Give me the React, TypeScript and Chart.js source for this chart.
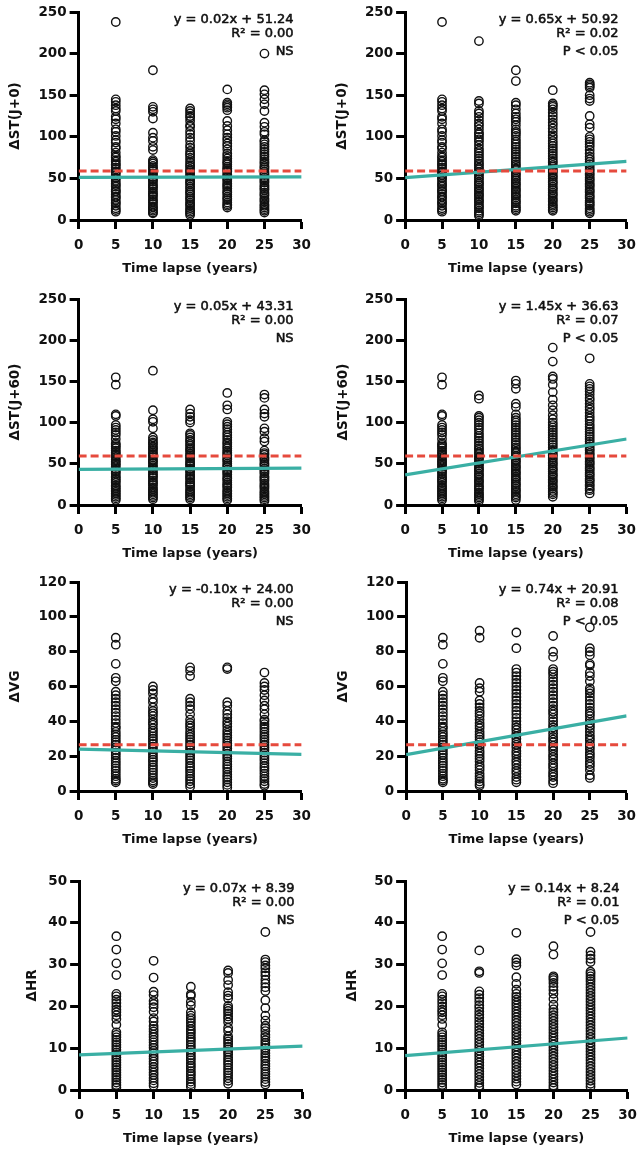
import React, { useEffect, useRef } from "react";
import { Chart, registerables } from "chart.js";

Chart.register(...registerables);

// ---- data -------------------------------------------------------------
const years = [5, 10, 15, 20, 25];

// ΔST(J+0)
const stJ0Year5 = [238, 145, 142, 138, 134, 131, 124, 121, 116, 109, 106, 101, 96, 93, 88, 86, 81, 77, 75, 72, 70, 67, 66, 63, 61, 58, 57, 54, 51, 50, 47, 44, 42, 40, 37, 35, 34, 31, 28, 27, 24, 21, 20, 17, 14, 12, 10];
const stJ0A10 = [180, 136, 133, 130, 122, 105, 99, 95, 88, 84, 72, 70, 68, 65, 63, 61, 59, 56, 55, 52, 50, 48, 46, 43, 41, 39, 37, 34, 32, 30, 28, 25, 23, 21, 19, 16, 15, 13, 11, 9, 8];
const stJ0A15 = [134, 131, 128, 125, 123, 119, 114, 112, 107, 103, 99, 95, 90, 87, 83, 80, 78, 75, 72, 69, 66, 64, 61, 59, 57, 54, 52, 50, 47, 45, 43, 40, 38, 35, 33, 31, 28, 26, 24, 21, 19, 17, 14, 12, 10, 8, 6];
const stJ0A20 = [157, 141, 139, 137, 135, 132, 119, 113, 108, 103, 99, 96, 92, 89, 85, 80, 77, 74, 71, 69, 67, 64, 62, 60, 58, 55, 53, 51, 49, 47, 44, 42, 40, 38, 35, 33, 31, 28, 26, 24, 21, 19, 17, 15];
const stJ0A25 = [200, 156, 151, 145, 139, 131, 117, 112, 106, 103, 96, 94, 91, 88, 85, 82, 79, 76, 73, 70, 68, 65, 63, 61, 58, 56, 54, 51, 49, 47, 45, 42, 40, 38, 36, 33, 31, 29, 26, 24, 22, 19, 17, 15, 13, 11, 9];
const stJ0B10 = [215, 143, 140, 131, 128, 124, 120, 116, 113, 109, 105, 103, 100, 97, 94, 90, 86, 83, 80, 77, 74, 71, 68, 66, 63, 61, 58, 56, 54, 51, 49, 46, 44, 42, 39, 37, 35, 32, 30, 28, 25, 23, 21, 18, 16, 14, 11, 9, 7, 5];
const stJ0B15 = [180, 167, 141, 138, 133, 128, 124, 121, 118, 114, 109, 106, 104, 101, 97, 94, 91, 88, 85, 82, 79, 76, 73, 70, 67, 65, 62, 60, 57, 55, 53, 50, 48, 45, 43, 41, 38, 36, 34, 31, 29, 27, 24, 22, 20, 17, 15, 13, 11];
const stJ0B20 = [156, 140, 138, 136, 133, 129, 125, 121, 117, 114, 110, 106, 102, 99, 95, 92, 89, 86, 83, 80, 77, 74, 71, 69, 66, 64, 61, 59, 57, 54, 52, 50, 47, 45, 43, 40, 38, 36, 33, 31, 29, 26, 24, 22, 19, 17, 15, 13, 11];
const stJ0B25 = [165, 163, 161, 159, 150, 146, 143, 125, 115, 111, 100, 97, 94, 91, 88, 84, 80, 76, 73, 70, 67, 64, 61, 59, 56, 54, 51, 49, 47, 44, 42, 40, 37, 35, 33, 30, 28, 26, 23, 21, 19, 17, 14, 12, 10, 8];

// ΔST(J+60)
const stJ60Year5 = [155, 146, 110, 108, 97, 94, 91, 88, 85, 80, 75, 73, 71, 69, 66, 64, 62, 60, 58, 55, 53, 51, 49, 47, 44, 42, 40, 38, 35, 33, 31, 29, 27, 24, 22, 20, 18, 16, 14, 12, 10, 8, 6];
const stJ60A10 = [163, 115, 104, 101, 93, 82, 79, 76, 74, 71, 69, 67, 64, 62, 60, 58, 55, 53, 51, 48, 46, 44, 42, 39, 37, 35, 33, 30, 28, 26, 24, 21, 19, 17, 15, 13, 11, 9, 7];
const stJ60A15 = [116, 111, 107, 103, 100, 87, 85, 82, 79, 77, 74, 72, 69, 67, 65, 62, 60, 58, 56, 53, 51, 49, 47, 44, 42, 40, 37, 35, 33, 31, 28, 26, 24, 22, 19, 17, 15, 13, 11, 9, 7];
const stJ60A20 = [136, 121, 116, 101, 98, 95, 92, 88, 85, 82, 79, 76, 74, 71, 69, 66, 64, 62, 60, 57, 55, 53, 50, 48, 46, 43, 41, 39, 37, 34, 32, 30, 27, 25, 23, 21, 18, 16, 14, 12, 10, 8, 6];
const stJ60A25 = [134, 130, 116, 111, 107, 93, 89, 81, 77, 66, 63, 61, 58, 56, 54, 51, 49, 47, 44, 42, 40, 38, 35, 33, 31, 29, 26, 24, 22, 20, 17, 15, 13, 11, 9, 7, 5];
const stJ60B10 = [133, 129, 108, 106, 103, 100, 97, 94, 91, 87, 84, 81, 78, 75, 72, 69, 67, 64, 62, 59, 57, 55, 52, 50, 48, 45, 43, 41, 38, 36, 34, 31, 29, 27, 24, 22, 20, 18, 15, 13, 11, 9, 7, 5];
const stJ60B15 = [151, 147, 141, 123, 119, 110, 106, 103, 100, 97, 94, 91, 88, 85, 82, 79, 76, 73, 70, 68, 65, 63, 60, 58, 55, 53, 51, 48, 46, 44, 41, 39, 37, 34, 32, 30, 27, 25, 23, 20, 18, 16, 13, 11, 9, 6];
const stJ60B20 = [191, 174, 156, 153, 146, 137, 128, 121, 115, 109, 104, 100, 97, 94, 91, 88, 85, 82, 79, 76, 73, 70, 67, 65, 62, 60, 57, 55, 52, 50, 48, 45, 43, 41, 38, 36, 34, 31, 29, 27, 24, 22, 20, 17, 15, 13, 10];
const stJ60B25 = [178, 147, 144, 141, 138, 134, 130, 127, 123, 119, 116, 112, 108, 105, 102, 98, 95, 92, 89, 86, 83, 80, 77, 74, 71, 68, 66, 63, 61, 58, 56, 53, 51, 49, 46, 44, 42, 39, 37, 35, 32, 30, 28, 25, 23, 20, 18, 14];

// ΔVG
const vgYear5 = [88, 84, 73, 65, 63, 57, 55, 53, 51, 49, 47, 45, 43, 41, 39, 37, 36, 34, 32.5, 31, 29.4, 28, 26.6, 25, 23.5, 22, 20.6, 19, 17.4, 16, 14.5, 13, 11.6, 10, 8.5, 7, 6, 5];
const vgA10 = [60, 58, 56, 53, 51, 48, 46, 44.6, 43, 41, 39.4, 38, 36, 34.6, 33, 31.4, 30, 28.6, 27, 25.4, 24, 22.6, 21, 19.4, 18, 16.6, 15, 13.5, 12, 10.6, 9, 7.4, 6, 5, 4];
const vgA15 = [71, 69, 66, 53, 51, 49, 47, 44, 41, 39, 37.6, 36, 34, 32.4, 31, 29.6, 28, 26.4, 25, 23.6, 22, 20.4, 19, 17.6, 16, 14.4, 13, 11.6, 10, 8.4, 7, 5.6, 4, 2.5];
const vgA20 = [71, 70, 51, 49, 46, 44, 42, 40, 38.6, 37, 35, 33.4, 32, 30.6, 29, 27.4, 26, 24.6, 23, 21.4, 20, 18.6, 17, 15.4, 14, 12.6, 11, 9.4, 8, 6.6, 5, 3.5, 2];
const vgA25 = [68, 62, 60, 58, 55, 52, 49, 47, 44, 41, 40, 38.4, 37, 35.6, 34, 32.4, 31, 29.6, 28, 26.4, 25, 23.6, 22, 20.4, 19, 17.6, 16, 14.4, 13, 11.6, 10, 8.4, 7, 5.6, 4, 3];
const vgB10 = [92, 88, 62, 59, 57, 52, 50, 48, 46, 44.5, 43, 41, 39, 37.5, 36, 34, 32.5, 31, 29.5, 28, 26.5, 25, 23, 21.5, 20, 18.5, 17, 15, 13.5, 12, 10, 8.5, 7, 5.5, 4, 3];
const vgB15 = [91, 82, 70, 68, 66, 64, 62, 60, 58, 56, 54, 52, 50, 48, 46, 44, 42, 40, 38, 36.5, 35, 33, 31.5, 30, 28, 26.5, 25, 23, 21.5, 20, 18, 16.5, 15, 13, 11.5, 10, 8, 6.5, 5];
const vgB20 = [89, 80, 77, 70, 68.5, 67, 65, 63, 61, 59, 57, 55, 53, 51, 49, 47, 45.5, 44, 42, 40, 38, 36.5, 35, 33, 31, 29.5, 28, 26, 24.5, 23, 21, 19.5, 18, 16, 14.5, 13, 11, 9.5, 8, 6, 4.5];
const vgB25 = [94, 82, 80, 78, 73, 72, 68, 66, 63, 59, 57.5, 56, 54, 52, 50, 48, 46, 44.5, 43, 41, 39, 37.5, 36, 34, 32, 30.5, 29, 27, 25.5, 24, 22, 20.5, 19, 17, 15.5, 14, 12, 9, 7.5];

// ΔHR
const hrYear5 = [36.8, 33.6, 30.3, 27.5, 23, 22.4, 21.6, 20.8, 20, 19.2, 18.6, 17.9, 17, 15.6, 13.8, 13.2, 12.6, 12, 11.4, 10.8, 10.2, 9.6, 9, 8.4, 7.8, 7.2, 6.6, 6, 5.4, 4.8, 4.2, 3.6, 3, 2.4, 1.8, 1.2, 0.6];
const hrA10 = [30.9, 26.9, 23.5, 22.7, 21.3, 20.6, 19.8, 18.7, 17.2, 16.4, 15.3, 14.6, 14, 13.3, 12.7, 12, 11.4, 10.7, 10.1, 9.4, 8.8, 8.1, 7.5, 6.8, 6.2, 5.5, 4.9, 4.2, 3.6, 2.9, 2.3, 1.6, 1];
const hrA15 = [24.7, 22.9, 22.5, 21.1, 20.2, 18.6, 17.8, 17.2, 16.6, 16, 15.3, 14.6, 14, 13.4, 12.7, 12.1, 11.5, 10.8, 10.2, 9.6, 9, 8.3, 7.7, 7.1, 6.4, 5.8, 5.2, 4.5, 3.9, 3.3, 2.6, 2, 1.4, 0.8];
const hrA20 = [28.6, 28, 26.3, 25.1, 23.4, 22.6, 21.9, 20.1, 19.5, 18.9, 18.3, 17.6, 17, 16.2, 14.9, 14.1, 12.8, 12.2, 11.6, 11, 10.3, 9.7, 9.1, 8.5, 7.8, 7.2, 6.6, 6, 5.3, 4.7, 4.1, 3.5, 2.8, 2.2, 1.5];
const hrA25 = [37.8, 31.2, 30.6, 29.8, 29.1, 28.2, 27.4, 26.4, 25.5, 24.6, 23.7, 21.5, 19.6, 17.8, 16.6, 15.4, 14.8, 14.1, 13.2, 12.6, 11.9, 11.3, 10.7, 10.1, 9.5, 8.8, 8.2, 7.6, 7, 6.3, 5.7, 5.1, 4.4, 3.8, 3.2, 2.6, 1.9, 1.3];
const hrB10 = [33.4, 28.4, 28, 23.6, 22.8, 22, 21.2, 20.3, 19.6, 18.8, 18, 17.3, 16.5, 15.8, 15, 14.3, 13.6, 12.9, 12.2, 11.5, 10.8, 10.1, 9.4, 8.7, 8, 7.3, 6.6, 5.9, 5.2, 4.5, 3.8, 3.1, 2.4, 1.7, 1, 0.5];
const hrB15 = [37.6, 31.3, 30.5, 29.8, 27, 25.4, 24, 23, 22.3, 21.6, 20.9, 20.2, 19.5, 18.8, 18.1, 17.4, 16.7, 16, 15.3, 14.6, 13.9, 13.2, 12.5, 11.8, 11.1, 10.4, 9.7, 9, 8.3, 7.6, 6.9, 6.2, 5.5, 4.8, 4.1, 3.4, 2.7, 2, 1.3];
const hrB20 = [34.4, 32.4, 27.2, 26.8, 26.3, 25.6, 24.7, 23.9, 23, 21.8, 20.4, 19.3, 18.6, 17.9, 17.2, 16.5, 15.8, 15.1, 14.4, 13.7, 13, 12.3, 11.6, 10.9, 10.2, 9.5, 8.8, 8.1, 7.4, 6.7, 6, 5.3, 4.6, 3.9, 3.2, 2.5, 1.8, 1.1, 0.5];
const hrB25 = [37.8, 33.1, 32.2, 31.4, 30.6, 28.3, 27.8, 27.2, 26.6, 26, 25.3, 24.6, 23.9, 23.2, 22.5, 21.8, 21.1, 20.4, 19.7, 19, 18.3, 17.6, 16.9, 16.2, 15.5, 14.8, 14.1, 13.4, 12.7, 12, 11.3, 10.6, 9.9, 9.2, 8.5, 7.8, 7.1, 6.4, 5.7, 5, 4.3, 3.6, 2.9, 2.2, 1.5, 0.8];

// regression results per panel (left column, right column)
const slopes = [0.02, 0.65, 0.05, 1.45, -0.1, 0.74, 0.07, 0.14];
const intercepts = [51.24, 50.92, 43.31, 36.63, 24.0, 20.91, 8.39, 8.24];
const rSquared = [0.0, 0.02, 0.0, 0.07, 0.0, 0.08, 0.0, 0.01];
const significance = ["NS", "P < 0.05", "NS", "P < 0.05", "NS", "P < 0.05", "NS", "P < 0.05"];
// reference (dashed) levels; null where none is drawn
const referenceLevels = [59, 59, 59.5, 59.5, 26.5, 26.5, null, null];

const yTitles = ["ΔST(J+0)", "ΔST(J+0)", "ΔST(J+60)", "ΔST(J+60)", "ΔVG", "ΔVG", "ΔHR", "ΔHR"];
const yMaxima = [250, 250, 250, 250, 120, 120, 50, 50];
const ySteps = [50, 50, 50, 50, 20, 20, 10, 10];
const columnsPerPanel = [
  [stJ0Year5, stJ0A10, stJ0A15, stJ0A20, stJ0A25],
  [stJ0Year5, stJ0B10, stJ0B15, stJ0B20, stJ0B25],
  [stJ60Year5, stJ60A10, stJ60A15, stJ60A20, stJ60A25],
  [stJ60Year5, stJ60B10, stJ60B15, stJ60B20, stJ60B25],
  [vgYear5, vgA10, vgA15, vgA20, vgA25],
  [vgYear5, vgB10, vgB15, vgB20, vgB25],
  [hrYear5, hrA10, hrA15, hrA20, hrA25],
  [hrYear5, hrB10, hrB15, hrB20, hrB25],
];

// ---- layout (plot-area boxes on the page) ------------------------------
const frames = [
  { left: 79, right: 305, top: 12, bottom: 220, titleGap: 63.5 },
  { left: 405, right: 630, top: 12, bottom: 220, titleGap: 63 },
  { left: 79, right: 305, top: 299, bottom: 505, titleGap: 63.5 },
  { left: 405, right: 630, top: 299, bottom: 505, titleGap: 62 },
  { left: 79, right: 305, top: 582, bottom: 791, titleGap: 63.5 },
  { left: 406, right: 630, top: 582, bottom: 791, titleGap: 63 },
  { left: 79, right: 306, top: 881, bottom: 1090, titleGap: 47 },
  { left: 405, right: 631, top: 881, bottom: 1090, titleGap: 53 },
];

const FONT = "'DejaVu Sans', sans-serif";
const TEAL = "#3aafa4";
const RED = "#e64a3d";
const INK = "#111111";
const PAD_TOP = 12;
const PAD_RIGHT = 14;
const X_AXIS_H = 56;
const Y_TITLE_SIZE = 13.5;

function Panel({ index }: { index: number }) {
  const ref = useRef<HTMLCanvasElement | null>(null);
  const f = frames[index];
  const yAxisW = f.titleGap + (Y_TITLE_SIZE * 1.2) / 2;
  const width = Math.round(yAxisW + (f.right - f.left) + PAD_RIGHT);
  const height = PAD_TOP + (f.bottom - f.top) + X_AXIS_H;

  useEffect(() => {
    if (!ref.current) return;
    const slope = slopes[index];
    const intercept = intercepts[index];
    const points = columnsPerPanel[index].flatMap((vals, i) =>
      vals.map((v) => ({ x: years[i], y: v }))
    );
    const fitLine = [
      { x: 0, y: intercept },
      { x: 30, y: slope * 30 + intercept },
    ];
    const level = referenceLevels[index];
    const datasets: any[] = [];
    if (level !== null) {
      datasets.push({
        type: "line",
        data: [
          { x: 0, y: level },
          { x: 30, y: level },
        ],
        borderColor: RED,
        borderWidth: 3,
        borderDash: [8, 4],
        pointRadius: 0,
        fill: false,
      });
    }
    datasets.push({
      type: "line",
      data: fitLine,
      borderColor: TEAL,
      borderWidth: 3.2,
      pointRadius: 0,
      fill: false,
    });
    datasets.push({
      type: "scatter",
      data: points,
      pointStyle: "circle",
      pointRadius: 4.2,
      pointBorderWidth: 1.4,
      borderColor: INK,
      backgroundColor: "rgba(0,0,0,0)",
    });

    const statLines = [
      `y = ${slope.toFixed(2)}x + ${intercept.toFixed(2)}`,
      `R² = ${rSquared[index].toFixed(2)}`,
      significance[index],
    ];
    const statsPlugin = {
      id: "regressionStats",
      afterDatasetsDraw(chart: any) {
        const { ctx, chartArea } = chart;
        ctx.save();
        ctx.font = `13px ${FONT}`;
        ctx.fillStyle = INK;
        ctx.strokeStyle = INK;
        ctx.lineWidth = 0.55;
        ctx.lineJoin = "round";
        ctx.textAlign = "right";
        ctx.textBaseline = "middle";
        const offsets = [8, 22, 40];
        statLines.forEach((t, i) => {
          const x = chartArea.right - 8;
          const y = chartArea.top + offsets[i];
          ctx.fillText(t, x, y);
          ctx.strokeText(t, x, y);
        });
        ctx.restore();
      },
    };

    const tickFont = { family: FONT, size: 13.5, weight: "bold" as const };
    const chart = new Chart(ref.current, {
      type: "scatter",
      data: { datasets },
      plugins: [statsPlugin],
      options: {
        responsive: false,
        animation: false,
        layout: { padding: { top: PAD_TOP, right: PAD_RIGHT, left: 0, bottom: 0 } },
        plugins: { legend: { display: false }, tooltip: { enabled: false } },
        scales: {
          x: {
            type: "linear",
            min: 0,
            max: 30,
            ticks: { stepSize: 5, color: INK, font: tickFont, padding: 8, maxRotation: 0, autoSkip: false },
            grid: { display: true, drawOnChartArea: false, drawTicks: true, tickLength: 9, tickWidth: 3, tickColor: "#000" },
            border: { display: true, color: "#000", width: 3 },
            title: {
              display: true,
              text: "Time lapse (years)",
              color: INK,
              font: { family: FONT, size: 13, weight: "bold" },
              padding: 0,
            },
            afterFit: (s: any) => {
              s.height = X_AXIS_H;
            },
          },
          y: {
            type: "linear",
            min: 0,
            max: yMaxima[index],
            ticks: { stepSize: ySteps[index], color: INK, font: tickFont, padding: 3, autoSkip: false },
            grid: { display: true, drawOnChartArea: false, drawTicks: true, tickLength: 9, tickWidth: 3, tickColor: "#000" },
            border: { display: true, color: "#000", width: 3 },
            title: {
              display: true,
              text: yTitles[index],
              color: INK,
              font: { family: FONT, size: Y_TITLE_SIZE, weight: "bold" },
              padding: 0,
            },
            afterFit: (s: any) => {
              s.width = yAxisW;
            },
          },
        },
      } as any,
    });
    return () => chart.destroy();
  }, [index]);

  return (
    <canvas
      ref={ref}
      width={width}
      height={height}
      style={{
        position: "absolute",
        left: Math.round(f.left - yAxisW),
        top: f.top - PAD_TOP,
        width,
        height,
      }}
    />
  );
}

export default function App() {
  return (
    <div
      style={{
        position: "fixed",
        left: 0,
        top: 0,
        width: 637,
        height: 1150,
        overflow: "hidden",
        background: "#ffffff",
      }}
    >
      {frames.map((_, i) => (
        <Panel key={i} index={i} />
      ))}
    </div>
  );
}
